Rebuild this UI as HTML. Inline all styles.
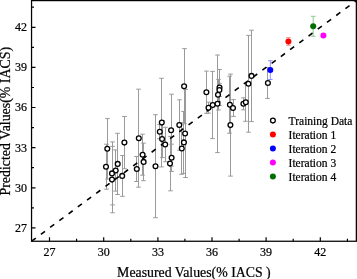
<!DOCTYPE html>
<html><head><meta charset="utf-8"><style>
html,body{margin:0;padding:0;background:#fff;}
body{width:357px;height:279px;overflow:hidden;}
svg{display:block;will-change:transform;}
text{font-family:"Liberation Serif",serif;fill:#000;stroke:#000;stroke-width:0.22px;}
</style></head><body>
<svg width="357" height="279" viewBox="0 0 357 279">
<path d="M107.5 118.6V179.0M105.2 118.6h4.6M105.2 179.0h4.6M106.5 144.2V189.2M104.2 144.2h4.6M104.2 189.2h4.6M117.5 133.3V194.5M115.2 133.3h4.6M115.2 194.5h4.6M115.5 149.9V191.1M113.2 149.9h4.6M113.2 191.1h4.6M112.5 141.9V204.9M110.2 141.9h4.6M110.2 204.9h4.6M112.5 146.4V212.8M110.2 146.4h4.6M110.2 212.8h4.6M122.5 155.5V196.3M120.2 155.5h4.6M120.2 196.3h4.6M124.5 116.5V168.7M122.2 116.5h4.6M122.2 168.7h4.6M138.5 89.2V187.2M136.2 89.2h4.6M136.2 187.2h4.6M142.5 134.2V175.2M140.2 134.2h4.6M140.2 175.2h4.6M143.5 143.1V180.7M141.2 143.1h4.6M141.2 180.7h4.6M136.5 156.5V181.5M134.2 156.5h4.6M134.2 181.5h4.6M155.5 114.7V217.7M153.2 114.7h4.6M153.2 217.7h4.6M161.5 78.3V166.9M159.2 78.3h4.6M159.2 166.9h4.6M159.5 124.7V138.7M157.2 124.7h4.6M157.2 138.7h4.6M162.5 120.6V157.6M160.2 120.6h4.6M160.2 157.6h4.6M165.5 127.3V161.7M163.2 127.3h4.6M163.2 161.7h4.6M171.5 94.2V166.2M169.2 94.2h4.6M169.2 166.2h4.6M171.5 144.2V171.4M169.2 144.2h4.6M169.2 171.4h4.6M170.5 136.4V190.8M168.2 136.4h4.6M168.2 190.8h4.6M179.5 99.8V150.2M177.2 99.8h4.6M177.2 150.2h4.6M184.5 48.6V123.8M182.2 48.6h4.6M182.2 123.8h4.6M185.5 89.5V177.5M183.2 89.5h4.6M183.2 177.5h4.6M183.5 111.4V173.4M181.2 111.4h4.6M181.2 173.4h4.6M181.5 122.7V174.3M179.2 122.7h4.6M179.2 174.3h4.6M206.5 71.1V113.3M204.2 71.1h4.6M204.2 113.3h4.6M208.5 102.2V113.2M206.2 102.2h4.6M206.2 113.2h4.6M212.5 71.4V138.6M210.2 71.4h4.6M210.2 138.6h4.6M217.5 55.0V152.6M215.2 55.0h4.6M215.2 152.6h4.6M218.5 79.4V110.0M216.2 79.4h4.6M216.2 110.0h4.6M219.5 69.5V105.5M217.2 69.5h4.6M217.2 105.5h4.6M219.5 83.4V96.6M217.2 83.4h4.6M217.2 96.6h4.6M229.5 76.2V133.2M227.2 76.2h4.6M227.2 133.2h4.6M233.5 99.6V116.4M231.2 99.6h4.6M231.2 116.4h4.6M230.5 74.1V176.1M228.2 74.1h4.6M228.2 176.1h4.6M243.5 97.8V109.8M241.2 97.8h4.6M241.2 109.8h4.6M245.5 83.3V121.3M243.2 83.3h4.6M243.2 121.3h4.6M248.5 35.4V132.2M246.2 35.4h4.6M246.2 132.2h4.6M251.5 30.2V121.6M249.2 30.2h4.6M249.2 121.6h4.6M267.5 67.6V98.4M265.2 67.6h4.6M265.2 98.4h4.6" stroke="#9a9a9a" stroke-width="1" fill="none"/>
<line x1="31.5" y1="241.27" x2="356.4" y2="0.56" stroke="#000" stroke-width="1.6" stroke-dasharray="5.1 6.386" stroke-dashoffset="-0.2"/>
<circle cx="107.3" cy="148.8" r="2.4" fill="#fff" stroke="#000" stroke-width="1.3"/>
<circle cx="106.0" cy="166.7" r="2.4" fill="#fff" stroke="#000" stroke-width="1.3"/>
<circle cx="117.7" cy="163.9" r="2.4" fill="#fff" stroke="#000" stroke-width="1.3"/>
<circle cx="115.7" cy="170.5" r="2.4" fill="#fff" stroke="#000" stroke-width="1.3"/>
<circle cx="112.0" cy="173.4" r="2.4" fill="#fff" stroke="#000" stroke-width="1.3"/>
<circle cx="112.0" cy="179.6" r="2.4" fill="#fff" stroke="#000" stroke-width="1.3"/>
<circle cx="122.2" cy="175.9" r="2.4" fill="#fff" stroke="#000" stroke-width="1.3"/>
<circle cx="124.4" cy="142.6" r="2.4" fill="#fff" stroke="#000" stroke-width="1.3"/>
<circle cx="138.8" cy="138.2" r="2.4" fill="#fff" stroke="#000" stroke-width="1.3"/>
<circle cx="142.6" cy="154.7" r="2.4" fill="#fff" stroke="#000" stroke-width="1.3"/>
<circle cx="143.6" cy="161.9" r="2.4" fill="#fff" stroke="#000" stroke-width="1.3"/>
<circle cx="136.8" cy="169.0" r="2.4" fill="#fff" stroke="#000" stroke-width="1.3"/>
<circle cx="155.5" cy="166.2" r="2.4" fill="#fff" stroke="#000" stroke-width="1.3"/>
<circle cx="161.8" cy="122.6" r="2.4" fill="#fff" stroke="#000" stroke-width="1.3"/>
<circle cx="159.8" cy="131.7" r="2.4" fill="#fff" stroke="#000" stroke-width="1.3"/>
<circle cx="162.1" cy="139.1" r="2.4" fill="#fff" stroke="#000" stroke-width="1.3"/>
<circle cx="165.2" cy="144.5" r="2.4" fill="#fff" stroke="#000" stroke-width="1.3"/>
<circle cx="171.1" cy="130.2" r="2.4" fill="#fff" stroke="#000" stroke-width="1.3"/>
<circle cx="171.6" cy="157.8" r="2.4" fill="#fff" stroke="#000" stroke-width="1.3"/>
<circle cx="170.0" cy="163.6" r="2.4" fill="#fff" stroke="#000" stroke-width="1.3"/>
<circle cx="179.3" cy="125.0" r="2.4" fill="#fff" stroke="#000" stroke-width="1.3"/>
<circle cx="184.1" cy="86.2" r="2.4" fill="#fff" stroke="#000" stroke-width="1.3"/>
<circle cx="185.1" cy="133.5" r="2.4" fill="#fff" stroke="#000" stroke-width="1.3"/>
<circle cx="183.9" cy="142.4" r="2.4" fill="#fff" stroke="#000" stroke-width="1.3"/>
<circle cx="181.8" cy="148.5" r="2.4" fill="#fff" stroke="#000" stroke-width="1.3"/>
<circle cx="206.4" cy="92.2" r="2.4" fill="#fff" stroke="#000" stroke-width="1.3"/>
<circle cx="208.5" cy="107.7" r="2.4" fill="#fff" stroke="#000" stroke-width="1.3"/>
<circle cx="212.7" cy="105.0" r="2.4" fill="#fff" stroke="#000" stroke-width="1.3"/>
<circle cx="217.5" cy="103.8" r="2.4" fill="#fff" stroke="#000" stroke-width="1.3"/>
<circle cx="218.0" cy="94.7" r="2.4" fill="#fff" stroke="#000" stroke-width="1.3"/>
<circle cx="219.5" cy="87.5" r="2.4" fill="#fff" stroke="#000" stroke-width="1.3"/>
<circle cx="219.4" cy="90.0" r="2.4" fill="#fff" stroke="#000" stroke-width="1.3"/>
<circle cx="229.9" cy="104.7" r="2.4" fill="#fff" stroke="#000" stroke-width="1.3"/>
<circle cx="233.0" cy="108.0" r="2.4" fill="#fff" stroke="#000" stroke-width="1.3"/>
<circle cx="230.4" cy="125.1" r="2.4" fill="#fff" stroke="#000" stroke-width="1.3"/>
<circle cx="243.4" cy="103.8" r="2.4" fill="#fff" stroke="#000" stroke-width="1.3"/>
<circle cx="245.8" cy="102.3" r="2.4" fill="#fff" stroke="#000" stroke-width="1.3"/>
<circle cx="248.4" cy="83.8" r="2.4" fill="#fff" stroke="#000" stroke-width="1.3"/>
<circle cx="251.5" cy="75.9" r="2.4" fill="#fff" stroke="#000" stroke-width="1.3"/>
<circle cx="267.9" cy="83.0" r="2.4" fill="#fff" stroke="#000" stroke-width="1.3"/>
<path d="M288.4 37.6V45.4M286.1 37.6h4.6M286.1 45.4h4.6" stroke="#ff9090" stroke-width="1" fill="none"/>
<circle cx="288.4" cy="41.5" r="3.0" fill="#ff0000"/>
<path d="M270.3 60.7V79.5M268.0 60.7h4.6M268.0 79.5h4.6" stroke="#9090ff" stroke-width="1" fill="none"/>
<circle cx="270.3" cy="70.1" r="3.0" fill="#0000ff"/>
<circle cx="323.4" cy="35.6" r="3.0" fill="#ff00ff"/>
<path d="M313.2 16.3V36.3M310.9 16.3h4.6M310.9 36.3h4.6" stroke="#8cc88c" stroke-width="1" fill="none"/>
<circle cx="313.2" cy="26.3" r="3.0" fill="#006e00"/>
<rect x="31.55" y="0.6" width="324.8" height="240.65" fill="none" stroke="#000" stroke-width="1.25"/>
<path d="M49.5 241.27v-4M31.5 227.9h4M103.7 241.27v-4M31.5 187.8h4M157.9 241.27v-4M31.5 147.7h4M212.0 241.27v-4M31.5 107.5h4M266.1 241.27v-4M31.5 67.4h4M320.3 241.27v-4M31.5 27.3h4M76.6 241.27v-2.5M31.5 207.8h2.5M130.8 241.27v-2.5M31.5 167.7h2.5M184.9 241.27v-2.5M31.5 127.6h2.5M239.1 241.27v-2.5M31.5 87.5h2.5M293.2 241.27v-2.5M31.5 47.4h2.5M347.4 241.27v-2.5M31.5 7.2h2.5" stroke="#000" stroke-width="1.2" fill="none"/>
<text x="49.5" y="255.6" font-size="12" text-anchor="middle">27</text>
<text x="27" y="231.8" font-size="12" text-anchor="end">27</text>
<text x="103.7" y="255.6" font-size="12" text-anchor="middle">30</text>
<text x="27" y="191.7" font-size="12" text-anchor="end">30</text>
<text x="157.9" y="255.6" font-size="12" text-anchor="middle">33</text>
<text x="27" y="151.6" font-size="12" text-anchor="end">33</text>
<text x="212.0" y="255.6" font-size="12" text-anchor="middle">36</text>
<text x="27" y="111.4" font-size="12" text-anchor="end">36</text>
<text x="266.1" y="255.6" font-size="12" text-anchor="middle">39</text>
<text x="27" y="71.3" font-size="12" text-anchor="end">39</text>
<text x="320.3" y="255.6" font-size="12" text-anchor="middle">42</text>
<text x="27" y="31.2" font-size="12" text-anchor="end">42</text>
<text x="193.9" y="277.2" font-size="13.82" text-anchor="middle">Measured Values(% IACS )</text>
<text transform="translate(9.6,121.2) rotate(-90)" font-size="13.9" text-anchor="middle">Predicted Values(% IACS)</text>
<circle cx="272.9" cy="120.6" r="2.4" fill="#fff" stroke="#000" stroke-width="1.3"/>
<text x="288.6" y="124.8" font-size="11.5">Training Data</text>
<circle cx="272.9" cy="134.6" r="3.0" fill="#ff0000"/>
<text x="288.6" y="138.8" font-size="11.5">Iteration 1</text>
<circle cx="272.9" cy="148.6" r="3.0" fill="#0000ff"/>
<text x="288.6" y="152.8" font-size="11.5">Iteration 2</text>
<circle cx="272.9" cy="162.6" r="3.0" fill="#ff00ff"/>
<text x="288.6" y="166.8" font-size="11.5">Iteration 3</text>
<circle cx="272.9" cy="176.6" r="3.0" fill="#006e00"/>
<text x="288.6" y="180.8" font-size="11.5">Iteration 4</text>
</svg>
</body></html>
